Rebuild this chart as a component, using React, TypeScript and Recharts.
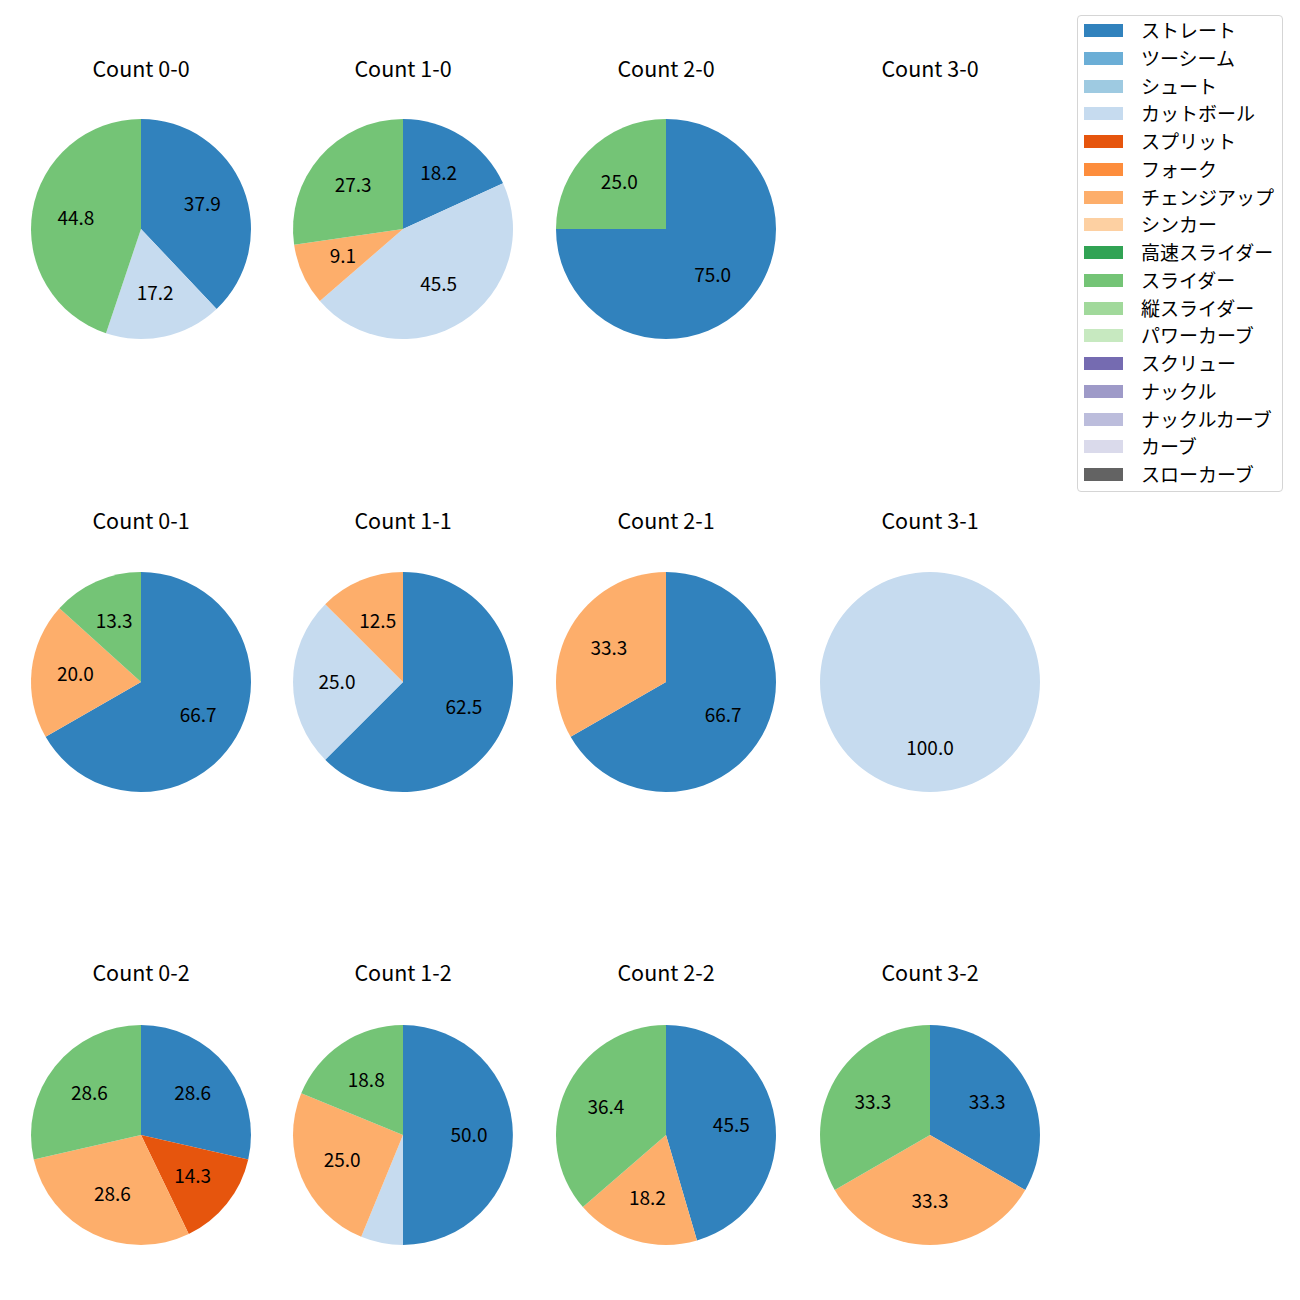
import React from 'react';
import { PieChart, Pie, Cell, Legend } from 'recharts';

const pitchTypes = [
  'ストレート', 'ツーシーム', 'シュート', 'カットボール', 'スプリット', 'フォーク',
  'チェンジアップ', 'シンカー', '高速スライダー', 'スライダー', '縦スライダー',
  'パワーカーブ', 'スクリュー', 'ナックル', 'ナックルカーブ', 'カーブ', 'スローカーブ',
];
const pitchColors = [
  '#3182bd', '#6baed6', '#9ecae1', '#c6dbef', '#e6550d', '#fd8d3c',
  '#fdae6b', '#fdd0a2', '#31a354', '#74c476', '#a1d99b', '#c7e9c0',
  '#756bb1', '#9e9ac8', '#bcbddc', '#dadaeb', '#636363',
];

const countTitles = [
  'Count 0-0', 'Count 1-0', 'Count 2-0', 'Count 3-0',
  'Count 0-1', 'Count 1-1', 'Count 2-1', 'Count 3-1',
  'Count 0-2', 'Count 1-2', 'Count 2-2', 'Count 3-2',
];

type Slice = { type: string; value: number };

const count00: Slice[] = [
  { type: 'ストレート', value: 37.9 }, { type: 'カットボール', value: 17.2 }, { type: 'スライダー', value: 44.8 },
];
const count10: Slice[] = [
  { type: 'ストレート', value: 18.2 }, { type: 'カットボール', value: 45.5 },
  { type: 'チェンジアップ', value: 9.1 }, { type: 'スライダー', value: 27.3 },
];
const count20: Slice[] = [
  { type: 'ストレート', value: 75.0 }, { type: 'スライダー', value: 25.0 },
];
const count30: Slice[] = [];
const count01: Slice[] = [
  { type: 'ストレート', value: 66.7 }, { type: 'チェンジアップ', value: 20.0 }, { type: 'スライダー', value: 13.3 },
];
const count11: Slice[] = [
  { type: 'ストレート', value: 62.5 }, { type: 'カットボール', value: 25.0 }, { type: 'チェンジアップ', value: 12.5 },
];
const count21: Slice[] = [
  { type: 'ストレート', value: 66.7 }, { type: 'チェンジアップ', value: 33.3 },
];
const count31: Slice[] = [
  { type: 'カットボール', value: 100.0 },
];
const count02: Slice[] = [
  { type: 'ストレート', value: 28.6 }, { type: 'スプリット', value: 14.3 },
  { type: 'チェンジアップ', value: 28.6 }, { type: 'スライダー', value: 28.6 },
];
const count12: Slice[] = [
  { type: 'ストレート', value: 50.0 }, { type: 'カットボール', value: 6.2 },
  { type: 'チェンジアップ', value: 25.0 }, { type: 'スライダー', value: 18.8 },
];
const count22: Slice[] = [
  { type: 'ストレート', value: 45.5 }, { type: 'チェンジアップ', value: 18.2 }, { type: 'スライダー', value: 36.4 },
];
const count32: Slice[] = [
  { type: 'ストレート', value: 33.3 }, { type: 'チェンジアップ', value: 33.3 }, { type: 'スライダー', value: 33.3 },
];

const countData = [
  count00, count10, count20, count30,
  count01, count11, count21, count31,
  count02, count12, count22, count32,
];

const FONT = '"Noto Sans CJK JP", "Noto Sans", sans-serif';
const colX = [141, 403, 666, 930];
const rowY = [229, 682, 1135];
const titleY = [68, 520, 972];
const RADIUS = 110;

const colorOf = (t: string) => pitchColors[pitchTypes.indexOf(t)];

const renderLabel = (props: any) => {
  const { cx, cy, midAngle, outerRadius, value } = props;
  if (value < 7) return null;
  const RAD = Math.PI / 180;
  const r = outerRadius * 0.6;
  const x = cx + r * Math.cos(-midAngle * RAD);
  const y = cy + r * Math.sin(-midAngle * RAD) - 2;
  return (
    <text x={x} y={y} textAnchor="middle" dominantBaseline="central" fontSize={19} fill="#000" fontFamily={FONT}>
      {value.toFixed(1)}
    </text>
  );
};

const LegendBox = () => (
  <div
    style={{
      position: 'absolute', left: 1077, top: 15, width: 204, height: 474,
      border: '1px solid #d5d5d5', borderRadius: 4, background: '#fff',
      fontFamily: FONT, fontSize: 19, color: '#000', paddingTop: 1, boxSizing: 'content-box',
    }}
  >
    {pitchTypes.map((t, i) => (
      <div key={t} style={{ height: 27.75, position: 'relative' }}>
        <div style={{ position: 'absolute', left: 6, top: 7, width: 39, height: 13, background: pitchColors[i] }} />
        <div style={{ position: 'absolute', left: 63, top: -1, whiteSpace: 'nowrap', lineHeight: '27.75px' }}>{t}</div>
      </div>
    ))}
  </div>
);

export default function App() {
  return (
    <div style={{ position: 'absolute', left: 0, top: 0, width: 1300, height: 1300, background: '#fff' }}>
      <PieChart width={1300} height={1300} margin={{ top: 0, right: 0, bottom: 0, left: 0 }}>
        {countData.map((data, i) =>
          data.length === 0 ? null : (
            <Pie
              key={countTitles[i]}
              data={data}
              dataKey="value"
              nameKey="type"
              cx={colX[i % 4]}
              cy={rowY[Math.floor(i / 4)]}
              outerRadius={RADIUS}
              innerRadius={0}
              startAngle={90}
              endAngle={-270}
              stroke="none"
              label={renderLabel}
              labelLine={false}
              isAnimationActive={false}
            >
              {data.map((d) => (
                <Cell key={d.type} fill={colorOf(d.type)} />
              ))}
            </Pie>
          )
        )}
        <Legend content={() => <LegendBox />} wrapperStyle={{ position: 'absolute', left: 0, top: 0, width: 0, height: 0 }} />
      </PieChart>
      {countTitles.map((t, i) => (
        <div
          key={t}
          style={{
            position: 'absolute', left: colX[i % 4] - 100, width: 200, top: titleY[Math.floor(i / 4)] - 15,
            height: 30, lineHeight: '30px', textAlign: 'center', fontFamily: FONT, fontSize: 21.5, color: '#000',
          }}
        >
          {t}
        </div>
      ))}
    </div>
  );
}
